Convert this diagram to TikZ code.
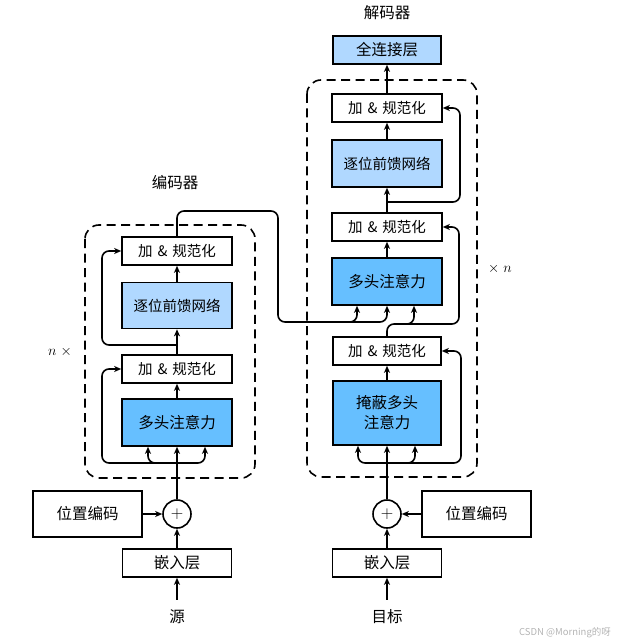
\documentclass[tikz,border=0pt]{standalone}
\usepackage{fontspec}
\setmainfont{Noto Sans CJK SC}
\usetikzlibrary{arrows.meta}
\definecolor{mhablue}{HTML}{66BFFF}
\definecolor{ffnblue}{HTML}{B0D8FF}
\definecolor{wm}{HTML}{B4B4B4}
\newcommand{\addnormtext}{加\hspace{5pt}\&\hspace{5pt}规范化}
\tikzset{
  box/.style={draw, line width=1.6pt, inner sep=0pt, fill=white, align=center,
    font=\fontsize{15.5}{20}\selectfont},
  addnorm/.style={box, minimum width=110pt, minimum height=28pt, font=\fontsize{14.5}{17}\selectfont},
  ffnbox/.style={box, fill=ffnblue, minimum width=110pt, minimum height=46pt, font=\fontsize{14.5}{17}\selectfont},
  mhabox/.style={box, fill=mhablue, minimum width=110pt, minimum height=47pt},
  plain/.style={box, minimum width=109pt},
  plus/.style={draw, circle, line width=1.6pt, minimum size=28pt, inner sep=0pt, fill=white,
    font=\fontsize{16}{16}\selectfont},
  lbl/.style={inner sep=0pt, font=\fontsize{15.5}{18}\selectfont},
  arr/.style={line width=1.6pt, -{Stealth[length=7pt,width=6pt,inset=2pt]}},
  rc/.style={rounded corners=7pt},
  frame/.style={draw, line width=1.6pt, dash pattern=on 9pt off 5.5pt, rounded corners=14pt},
}
\begin{document}
\begin{tikzpicture}[x=1pt,y=-1pt]
\useasboundingbox (0,0) rectangle (626,644);
% frames
\draw[frame] (85,225) rectangle (255,478);
\draw[frame] (307,80) rectangle (477,477);
% encoder nodes
\node[lbl] (enclbl) at (175,183) {编码器};
\node[addnorm] (ean2) at (177,251) {\addnormtext};
\node[ffnbox] (effn) at (177,305.5) {逐位前馈网络};
\node[addnorm] (ean1) at (177,369) {\addnormtext};
\node[mhabox] (emha) at (177,422.5) {多头注意力};
\node[plus] (eplus) at (177,514) {$+$};
\node[plain, minimum height=46pt] (epos) at (87.5,514) {位置编码};
\node[plain, minimum height=28pt] (eemb) at (177,563) {嵌入层};
\node[lbl, inner ysep=10pt] (esrc) at (177,617) {源};
\node[inner sep=0pt, font=\fontsize{15}{17}\selectfont] (nx) at (60,352) {$n\;\times$};
% decoder nodes
\node[lbl] (declbl) at (387,13) {解码器};
\node[box, fill=ffnblue, minimum width=108pt, minimum height=28pt] (fc) at (387,50) {全连接层};
\node[addnorm] (dan3) at (387,108) {\addnormtext};
\node[ffnbox, minimum height=47pt] (dffn) at (387,163.5) {逐位前馈网络};
\node[addnorm] (dan2) at (387,227) {\addnormtext};
\node[mhabox] (dmha) at (387,281.5) {多头注意力};
\node[addnorm, minimum width=108pt] (dan1) at (387,351) {\addnormtext};
\node[mhabox, minimum width=108pt, minimum height=64pt] (dmmha) at (387,413) {掩蔽多头\\注意力};
\node[plus] (dplus) at (387,514) {$+$};
\node[plain, minimum height=46pt] (dpos) at (476.5,514) {位置编码};
\node[plain, minimum height=28pt] (demb) at (387,563) {嵌入层};
\node[lbl, inner ysep=10pt] (dtgt) at (387,617) {目标};
\node[inner sep=0pt, font=\fontsize{15}{17}\selectfont] (xn) at (500,269) {$\times\; n$};
\node[inner sep=0pt, text=wm, font=\fontsize{9.5}{11}\selectfont] (wmk) at (565,633) {CSDN @Morning的呀};
% coordinates
\coordinate (ej1) at (177,463);
\coordinate (ej2) at (177,345);
\coordinate (eout) at (177,211);
\coordinate (ecross) at (278,211);
\coordinate (dj1) at (387,463);
\coordinate (dj3) at (387,202);
% encoder connectors
\draw[arr] (esrc.north) -- (eemb.south);
\draw[arr] (eemb.north) -- (eplus.south);
\draw[arr] (epos.east) -- (eplus.west);
\draw[arr] (eplus.north) -- (emha.south);
\draw[arr, rc] (ej1) -| ([xshift=-29pt]emha.south);
\draw[arr, rc] (ej1) -| ([xshift=28pt]emha.south);
\draw[arr, rc] (ej1) -- ++(-75,0) |- (ean1.west);
\draw[arr] (emha.north) -- (ean1.south);
\draw[arr] (ean1.north) -- (effn.south);
\draw[arr, rc] (ej2) -- ++(-75,0) |- (ean2.west);
\draw[arr] (effn.north) -- (ean2.south);
% encoder to decoder
\draw[arr, rc] (ean2.north) -- (eout) -- (ecross) -- (278,322) -| (dmha.south);
\draw[arr, rc] (300,322) -| ([xshift=-30pt]dmha.south);
% decoder connectors
\draw[arr] (dtgt.north) -- (demb.south);
\draw[arr] (demb.north) -- (dplus.south);
\draw[arr] (dpos.west) -- (dplus.east);
\draw[arr] (dplus.north) -- (dmmha.south);
\draw[arr, rc] (dj1) -| ([xshift=-29pt]dmmha.south);
\draw[arr, rc] (dj1) -| ([xshift=28pt]dmmha.south);
\draw[arr, rc] (dj1) -- ++(74,0) |- (dan1.east);
\draw[arr] (dmmha.north) -- (dan1.south);
\draw[arr, rc] (dan1.north) |- (459,324) |- (dan2.east);
\draw[arr, rc] (400,324) -| ([xshift=27pt]dmha.south);
\draw[arr] (dmha.north) -- (dan2.south);
\draw[arr] (dan2.north) -- (dffn.south);
\draw[arr, rc] (dj3) -- ++(73,0) |- (dan3.east);
\draw[arr] (dffn.north) -- (dan3.south);
\draw[arr] (dan3.north) -- (fc.south);
\end{tikzpicture}
\end{document}
